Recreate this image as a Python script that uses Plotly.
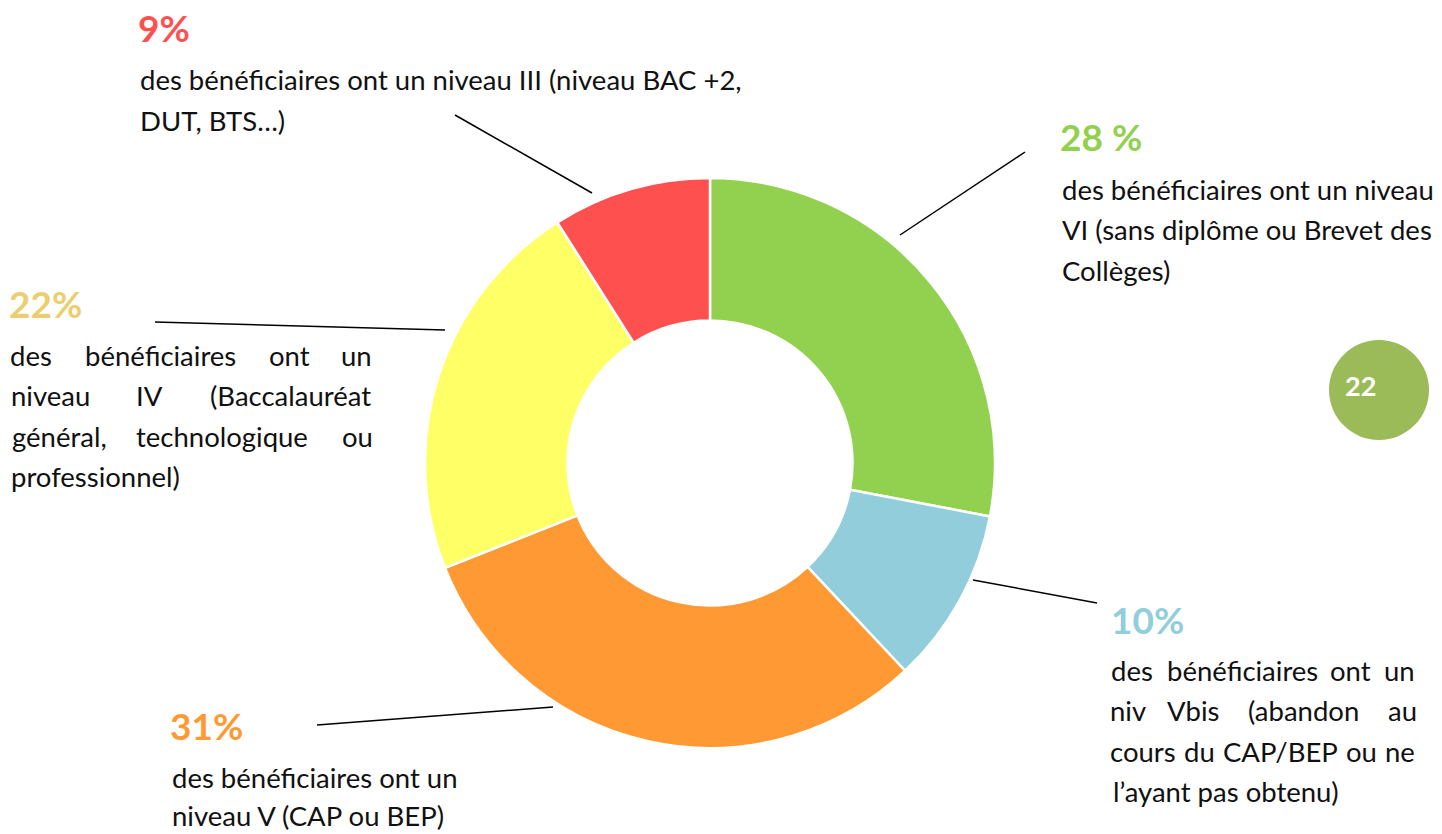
import plotly.graph_objects as go

W, H = 1442, 834

# ---------------- data ----------------
levels = ["Niveau VI", "Niveau Vbis", "Niveau V", "Niveau IV", "Niveau III"]
shares = [28, 10, 31, 22, 9]
pct_labels = ["28 %", "10%", "31%", "22%", "9%"]
desc_lines = [
    ["des bénéficiaires ont un niveau", "VI (sans diplôme ou Brevet des", "Collèges)"],
    ["des bénéficiaires ont un", "niv Vbis (abandon au", "cours du CAP/BEP ou ne", "l’ayant pas obtenu)"],
    ["des bénéficiaires ont un", "niveau V (CAP ou BEP)"],
    ["des bénéficiaires ont un", "niveau IV (Baccalauréat", "général, technologique ou", "professionnel)"],
    ["des bénéficiaires ont un niveau III (niveau BAC +2,", "DUT, BTS…)"],
]
page_number = "22"

# ---------------- style / layout ----------------
slice_colors = ["#92D050", "#92CDDC", "#FF9933", "#FFFF66", "#FF5050"]
label_colors = ["#92D050", "#92CDDC", "#FF9933", "#ECCD70", "#FF5050"]
FONT = "Lato, Carlito, Calibri, sans-serif"
BODY = 27.5
BIG = 37

# per block: pct label (left x, centre y), first line y, line spacing, left x,
# word centres for justified lines (None = left aligned), connector
blocks = [
    dict(pct=(1058, 137), x=1060, y0=189, dy=40.5, just=[None, None, None],
         conn=((900, 235), (1025, 152))),
    dict(pct=(1109, 619), x=1111, y0=670, dy=40.5,
         just=[[1132, 1242, 1350, 1399], [1128, 1193, 1303, 1402],
               [1143, 1199, 1280, 1361, 1400], None],
         conn=((973, 580), (1097, 603))),
    dict(pct=(168, 725), x=170, y0=777, dy=38, just=[None, None],
         conn=((317, 725), (553, 707))),
    dict(pct=(7, 304), x=9, y0=355, dy=40.5,
         just=[[31, 160, 289, 356], [50, 149, 290], [59, 222, 357], None],
         conn=((155, 322), (445, 330))),
    dict(pct=(136, 27), x=138, y0=80, dy=41, just=[None, None],
         conn=((455, 115), (592, 193))),
]


def px(x):
    return x / W


def py(y):
    return 1 - y / H


cx, cy, R = 710, 463, 285

fig = go.Figure(go.Pie(
    labels=levels, values=shares, sort=False, direction="clockwise", rotation=0,
    hole=0.5, textinfo="none", hoverinfo="label+percent",
    marker=dict(colors=slice_colors, line=dict(color="white", width=2.5)),
    domain=dict(x=[px(cx - R), px(cx + R)], y=[py(cy + R), py(cy - R)]),
    showlegend=False,
))

annotations = []
shapes = []
for i, b in enumerate(blocks):
    annotations.append(dict(
        x=px(b["pct"][0]), y=py(b["pct"][1]), xref="paper", yref="paper",
        xanchor="left", yanchor="middle", showarrow=False, text=f"<b>{pct_labels[i]}</b>",
        font=dict(family=FONT, size=BIG, color=label_colors[i])))
    for j, line in enumerate(desc_lines[i]):
        ly = b["y0"] + j * b["dy"]
        centres = b["just"][j]
        if centres is None:
            annotations.append(dict(
                x=px(b["x"]), y=py(ly), xref="paper", yref="paper",
                xanchor="left", yanchor="middle", showarrow=False, text=line,
                font=dict(family=FONT, size=BODY, color="#111111")))
        else:
            words = line.split(" ")
            for w_, c in zip(words, centres):
                annotations.append(dict(
                    x=px(c), y=py(ly), xref="paper", yref="paper",
                    xanchor="center", yanchor="middle", showarrow=False, text=w_,
                    font=dict(family=FONT, size=BODY, color="#111111")))
    (x0, y0), (x1, y1) = b["conn"]
    shapes.append(dict(type="line", xref="paper", yref="paper",
                       x0=px(x0), y0=py(y0), x1=px(x1), y1=py(y1),
                       line=dict(color="#000000", width=1.5)))

# page badge
bx, by, br = 1379, 390, 50
shapes.append(dict(type="circle", xref="paper", yref="paper",
                   x0=px(bx - br), x1=px(bx + br), y0=py(by + br), y1=py(by - br),
                   fillcolor="#9BBB59", line=dict(width=0)))
annotations.append(dict(x=px(1360), y=py(385), xref="paper", yref="paper",
                        xanchor="center", yanchor="middle", showarrow=False,
                        text=f"<b>{page_number}</b>",
                        font=dict(family=FONT, size=27, color="white")))

fig.update_layout(
    width=W, height=H, margin=dict(l=0, r=0, t=0, b=0),
    paper_bgcolor="white", plot_bgcolor="white",
    annotations=annotations, shapes=shapes,
)

fig.write_html("out.html", config={"displayModeBar": False},
               post_script="document.body.style.margin='0';document.body.style.overflow='hidden';")
